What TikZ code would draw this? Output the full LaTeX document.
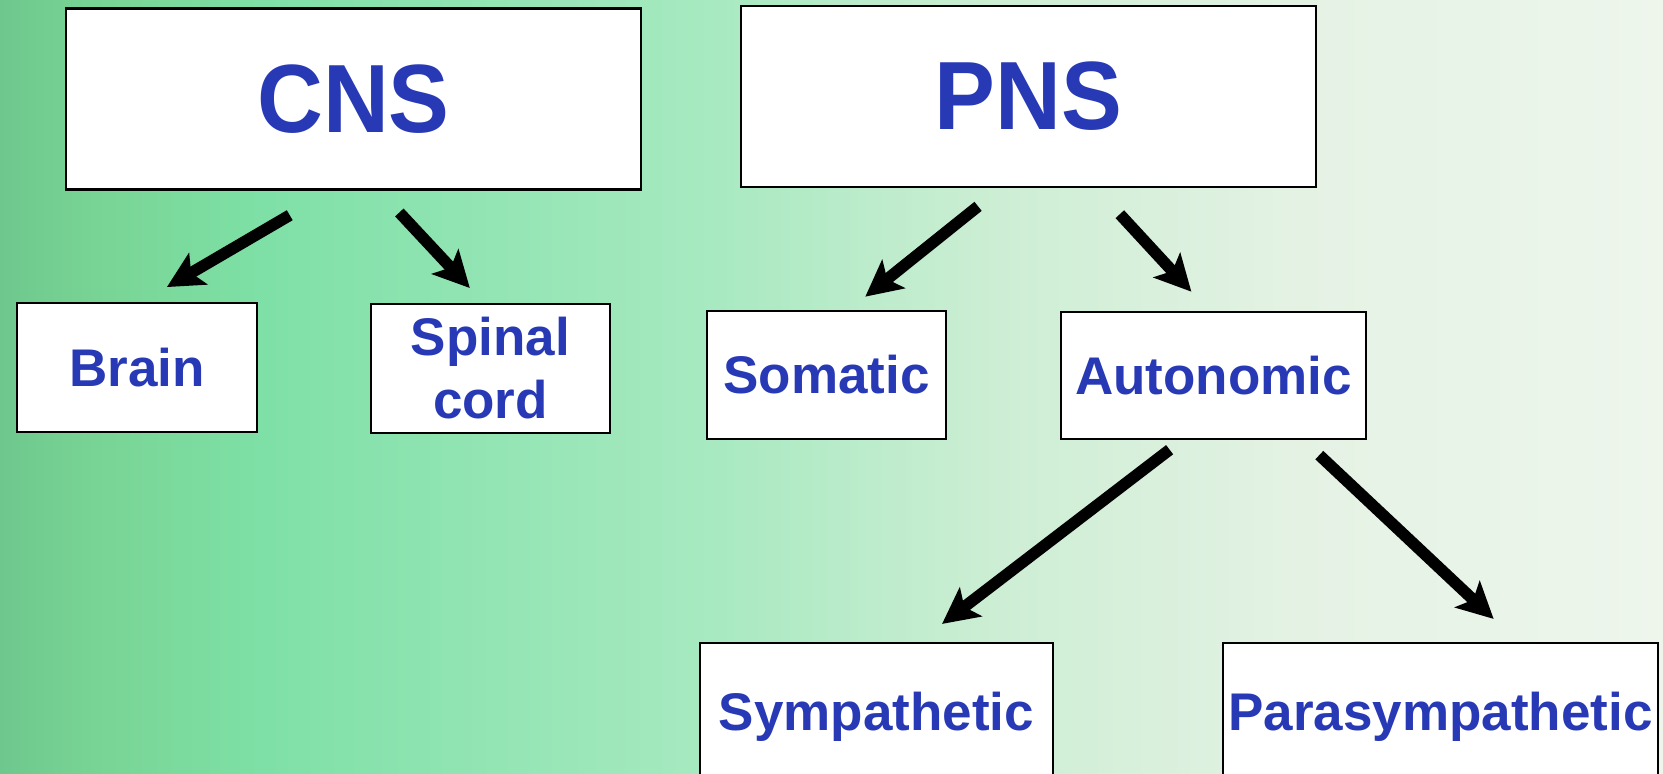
\documentclass[tikz,border=0pt]{standalone}
\usepackage{fontspec}
\setmainfont{Liberation Sans}
\newfontfamily\headfont[FakeStretch=0.94]{Liberation Sans}
\usetikzlibrary{arrows.meta}

\definecolor{labelblue}{RGB}{40,57,182}
\definecolor{bg0}{RGB}{110,200,142}
\definecolor{bg1}{RGB}{120,212,148}
\definecolor{bg2}{RGB}{126,224,166}
\definecolor{bg3}{RGB}{166,233,192}
\definecolor{bg4}{RGB}{205,238,212}
\definecolor{bg5}{RGB}{228,242,228}
\definecolor{bg6}{RGB}{238,246,236}

\tikzset{
  box/.style={draw=black, line width=1.2pt, fill=white, text=labelblue, inner sep=0pt,
    align=center, font=\bfseries\fontsize{26.5}{31.5}\selectfont},
  headbox/.style={box, minimum width=287.5pt, minimum height=90.5pt,
    font=\headfont\bfseries\fontsize{48.5}{58}\selectfont},
  arr/.style={line width=5.8pt, -{Stealth[length=18pt, width=18pt, inset=4pt]}}
}

\begin{document}
\begin{tikzpicture}[x=0.5pt, y=-0.5pt]
        \useasboundingbox (0,0) rectangle (1663,774);
        \clip (0,0) rectangle (1663,774);

        % background
        \foreach \xa/\xb/\ca/\cb in {0/95/bg0/bg1, 95/260/bg1/bg2, 260/700/bg2/bg3,
            700/1000/bg3/bg4, 1000/1300/bg4/bg5, 1300/1663/bg5/bg6} {
          \fill[left color=\ca, right color=\cb] (\xa-0.5,0) rectangle (\xb+0.5,774);
        }

        % boxes
        \node[headbox] (cns) at (353.5,99) {CNS};
        \node[headbox] (pns) at (1028.5,96.5) {PNS};
        \node[box, minimum width=120pt, minimum height=64.5pt] (brain) at (137,367.5) {Brain};
        \node[box, minimum width=119.5pt, minimum height=64.5pt] (spinal) at (490.5,368.5) {Spinal\\cord};
        \node[box, minimum width=119.5pt, minimum height=64pt] (somatic) at (826.5,375) {Somatic};
        \node[box, minimum width=152.25pt, minimum height=63.5pt] (autonomic) at (1213.5,375.5) {Autonomic};
        \node[box, minimum width=176.5pt, minimum height=74pt] (sympathetic) at (876.5,717) {Sympathetic};
        \node[box, minimum width=217.5pt, minimum height=74pt] (parasympathetic) at (1440.5,717) {Parasympathetic};

        % arrows
        \draw[arr, shorten <=24.3pt, shorten >=14.6pt] ([xshift=-10.9pt]cns.south) -- ([xshift=2.35pt]brain.north);
        \draw[arr, shorten <=14.9pt, shorten >=10.1pt] ([xshift=12.75pt]cns.south) -- ([xshift=-3.45pt]spinal.north);
        \draw[arr, shorten <=14.5pt, shorten >=10.5pt] ([xshift=-13.9pt]pns.south) -- ([xshift=11.2pt]somatic.north);
        \draw[arr, shorten <=17.7pt, shorten >=13pt] ([xshift=33.65pt]pns.south) -- ([xshift=-2.25pt]autonomic.north);
        \draw[arr, shorten <=7.8pt, shorten >=14.7pt] ([xshift=-15.75pt]autonomic.south) -- ([xshift=21.1pt]sympathetic.north);
        \draw[arr, shorten <=10.9pt, shorten >=16.7pt] ([xshift=44.95pt]autonomic.south) -- ([xshift=38.75pt]parasympathetic.north);
      \end{tikzpicture}
\end{document}
